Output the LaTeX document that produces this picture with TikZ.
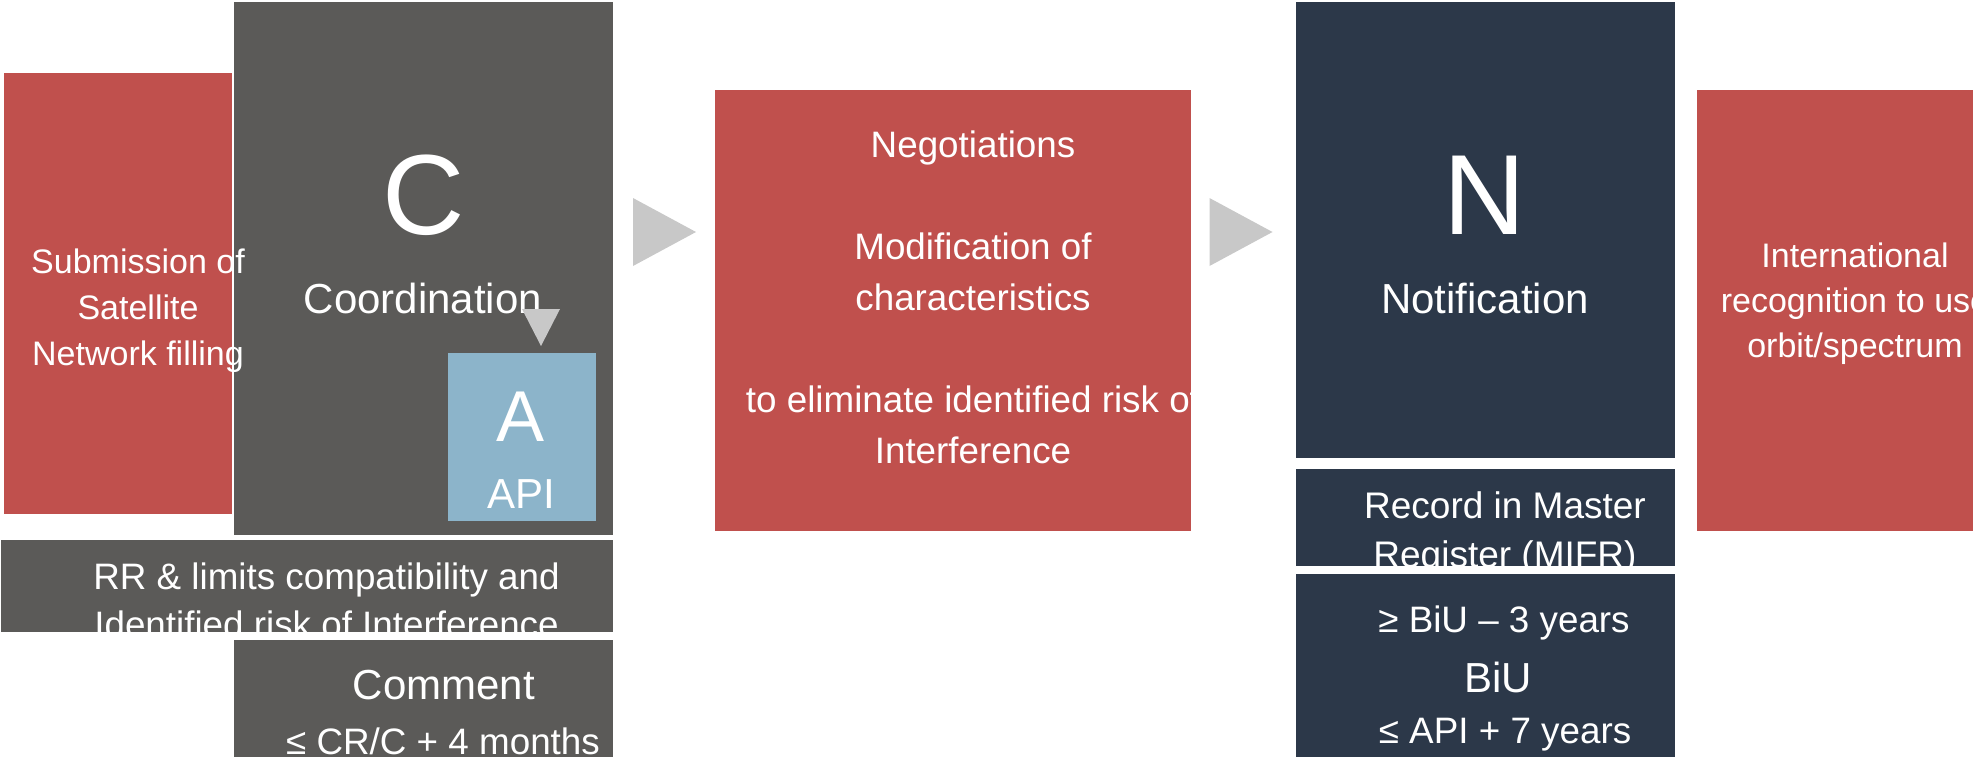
\documentclass[tikz,border=0pt]{standalone}
\usepackage{fontspec}
\setmainfont{Liberation Sans}

\definecolor{itured}{HTML}{C0504D}
\definecolor{itugray}{HTML}{5B5A58}
\definecolor{itunavy}{HTML}{2C3849}
\definecolor{itublue}{HTML}{8CB4CA}
\definecolor{itutri}{HTML}{C8C8C8}

\newcommand\fsz[2]{\fontsize{#1}{#2}\selectfont}

\begin{document}
\begin{tikzpicture}[x=0.5pt, y=-0.5pt,
  box/.style={rectangle, inner sep=0pt, outer sep=0pt},
  txt/.style={text=white, align=center, inner sep=0pt},
  chevron/.style={fill=itutri}]

  \useasboundingbox (0,0) rectangle (1975,756);
  \clip (0,0) rectangle (1975,756);

  %% submission and coordination
  \node[box, fill=itured, minimum width=114pt, minimum height=220.5pt] (sub) at (118,293.5) {};
  \node[box, fill=itugray, minimum width=189.5pt, minimum height=266.5pt] (coord) at (423.5,268.5) {};
  \node[txt, font=\fsz{17}{23}] (subtxt) at (138,310.5) {Submission of\\Satellite\\Network filling};
  \node[txt, font=\fsz{57}{60}] (cbig) at (424,195) {C};
  \node[txt, font=\fsz{21}{25}] (ctxt) at (423,298) {Coordination};

  %% API inside coordination
  \node[box, fill=itublue, minimum width=74pt, minimum height=84pt] (api) at (522,437) {};
  \node[txt, font=\fsz{36}{40}] (abig) at (521,417) {A};
  \node[txt, font=\fsz{21}{25}] (apitxt) at (521,494) {API};
  \coordinate (down) at (541,327.5);
  \fill[chevron] (down) ++(-19,-18.5) -- ++(38,0) -- ++(-19,37) -- cycle;

  \node[box, fill=itugray, minimum width=306pt, minimum height=46pt] (rr) at (307,586) {};
  \begin{scope}
    \clip (rr.south west) rectangle (rr.north east);
    \node[txt, font=\fsz{18.4}{24}] (rrtxt) at (326.5,600) {RR \& limits compatibility and\\Identified risk of Interference};
  \end{scope}

  \node[box, fill=itugray, minimum width=189.5pt, minimum height=110pt] (comment) at (423.5,750) {};
  \node[txt, font=\fsz{21}{25}] (commtxt) at (444,685) {Comment};
  \node[txt, font=\fsz{18.4}{24}] (commdue) at (443,741) {≤ CR/C + 4 months};

  %% negotiations
  \coordinate (arrA) at (664.5,232);
  \fill[chevron] (arrA) ++(-31.5,-34) -- ++(63,34) -- ++(-63,34) -- cycle;
  \node[box, fill=itured, minimum width=238pt, minimum height=220.5pt] (neg) at (953,310.5) {};
  \begin{scope}
    \clip (neg.south west) rectangle (neg.north east);
    \node[txt, font=\fsz{18.4}{25.5}] (negtxt) at (973,297.5) {Negotiations\\\mbox{}\\Modification of\\characteristics\\\mbox{}\\to eliminate identified risk of\\Interference};
  \end{scope}

  %% notification
  \coordinate (arrB) at (1241,232);
  \fill[chevron] (arrB) ++(-31.5,-34) -- ++(63,34) -- ++(-63,34) -- cycle;
  \node[box, fill=itunavy, minimum width=189.5pt, minimum height=228pt] (notif) at (1485.5,230) {};
  \node[txt, font=\fsz{57}{60}] (nbig) at (1485,195) {N};
  \node[txt, font=\fsz{21}{25}] (ntxt) at (1485,298) {Notification};

  \node[box, fill=itunavy, minimum width=189.5pt, minimum height=48.5pt] (record) at (1485.5,517.5) {};
  \begin{scope}
    \clip (record.south west) rectangle (record.north east);
    \node[txt, font=\fsz{18.5}{24.5}] (rectxt) at (1505,533) {Record in Master\\Register (MIFR)};
  \end{scope}

  \node[box, fill=itunavy, minimum width=189.5pt, minimum height=143pt] (biu) at (1485.5,717) {};
  \node[txt, font=\fsz{18.4}{24}] (biumin) at (1504,623) {≥ BiU – 3 years};
  \node[txt, font=\fsz{21}{25}] (biutxt) at (1498,677) {BiU};
  \node[txt, font=\fsz{18.4}{24}] (biumax) at (1505,735) {≤ API + 7 years};

  %% recognition
  \node[box, fill=itured, minimum width=138pt, minimum height=220.5pt] (intl) at (1835,310.5) {};
  \begin{scope}
    \clip (intl.south west) rectangle (intl.north east);
    \node[txt, font=\fsz{17}{22.5}] (intltxt) at (1855,304) {International\\recognition to use\\orbit/spectrum};
  \end{scope}
\end{tikzpicture}
\end{document}
